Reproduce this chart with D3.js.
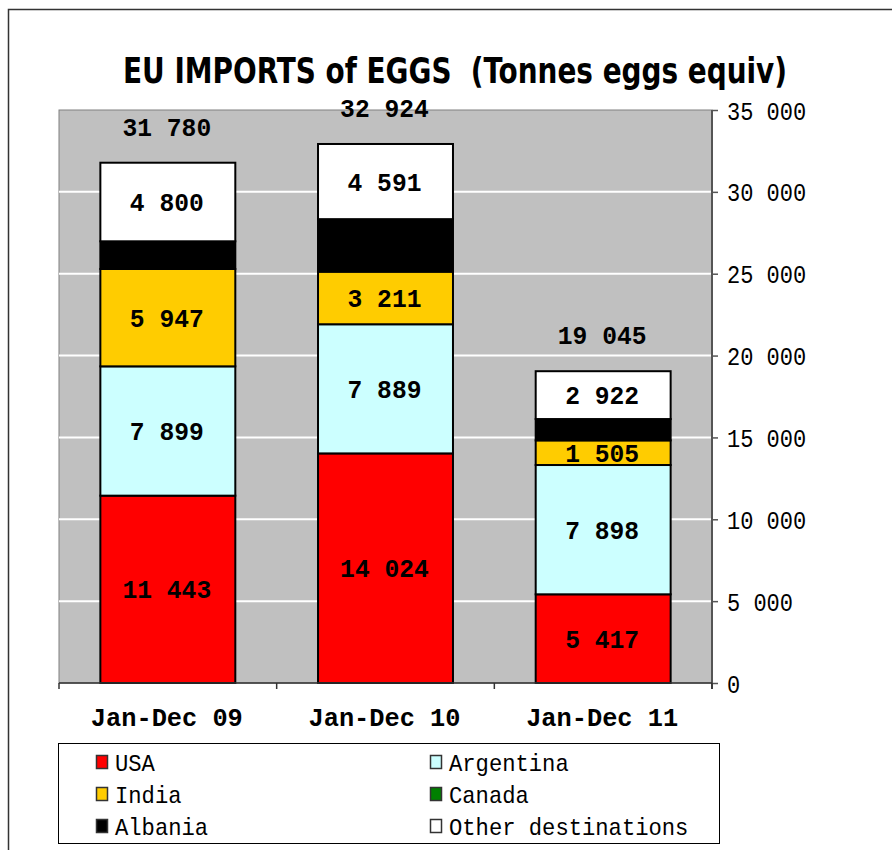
<!DOCTYPE html>
<html><head><meta charset="utf-8">
<script src="https://cdn.jsdelivr.net/npm/d3@7"></script>
<style>body{margin:0;background:#fff}svg{display:block}text{white-space:pre}</style>
</head><body>
<script>
const categories = ["Jan-Dec 09", "Jan-Dec 10", "Jan-Dec 11"];
const seriesNames = ["USA", "Argentina", "India", "Canada", "Albania", "Other destinations"];
const usa = [11443, 14024, 5417];
const argentina = [7899, 7889, 7898];
const india = [5947, 3211, 1505];
const canada = [0, 0, 0];
const albania = [1691, 3209, 1303];
const other = [4800, 4591, 2922];
const totals = [31780, 32924, 19045];
const yTicks = [0, 5000, 10000, 15000, 20000, 25000, 30000, 35000];
const showLabel = [true, true, true, false, false, true];
const colors = ["#ff0000", "#ccffff", "#ffcc00", "#008000", "#000000", "#ffffff"];

(function () {
const W = 892, H = 850;
const pL = 59, pR = 712, pT = 110, pB = 683;
const svg = d3.select("body").append("svg").attr("width", W).attr("height", H);
const fmt = d3.formatLocale({decimal: ".", thousands: " ", grouping: [3], currency: ["", ""]}).format(",d");
const MONO = "'Liberation Mono','DejaVu Sans Mono',monospace";

function mono(sel, size, charW, weight) {
  sel.attr("font-family", MONO).attr("font-size", size).attr("font-weight", weight || "normal")
    .attr("lengthAdjust", "spacingAndGlyphs")
    .attr("textLength", function () { return this.textContent.length * charW; });
  return sel;
}

// outer border
svg.append("rect").attr("x", 8.5).attr("y", 9.5).attr("width", 1000).attr("height", 1000)
  .attr("fill", "none").attr("stroke", "#333").attr("stroke-width", 1.5);

// title
svg.append("text").attr("x", 455).attr("y", 83).attr("text-anchor", "middle")
  .attr("font-family", "'Liberation Sans Narrow','DejaVu Sans Condensed','Liberation Sans',sans-serif")
  .attr("font-weight", "bold").attr("font-size", 36)
  .attr("textLength", 664).attr("lengthAdjust", "spacingAndGlyphs")
  .text("EU IMPORTS of EGGS  (Tonnes eggs equiv)");

const x = d3.scaleBand().domain(categories).range([pL, pR]).padding(0);
const y = d3.scaleLinear().domain([0, 35000]).range([pB, pT]);

// plot background
svg.append("rect").attr("x", pL).attr("y", pT).attr("width", pR - pL).attr("height", pB - pT)
  .attr("fill", "#c0c0c0").attr("stroke", "#808080").attr("stroke-width", 1);

// gridlines
svg.append("g").selectAll("line").data(yTicks.filter(t => t > 0 && t < 35000)).join("line")
  .attr("x1", pL).attr("x2", pR).attr("y1", d => y(d)).attr("y2", d => y(d))
  .attr("stroke", "#ffffff").attr("stroke-width", 2);

// stacked data
const table = categories.map((c, i) => ({cat: c, s0: usa[i], s1: argentina[i], s2: india[i], s3: canada[i], s4: albania[i], s5: other[i]}));
const keys = ["s0", "s1", "s2", "s3", "s4", "s5"];
const stack = d3.stack().keys(keys)(table);
const barW = x.bandwidth() * 0.62;
const bx = d => x(d.data.cat) + (x.bandwidth() - barW) / 2;

stack.forEach((layer, li) => {
  const g = svg.append("g");
  g.selectAll("rect").data(layer.filter(d => d[1] > d[0])).join("rect")
    .attr("x", bx).attr("width", barW)
    .attr("y", d => y(d[1])).attr("height", d => y(d[0]) - y(d[1]))
    .attr("fill", colors[li]).attr("stroke", "#000").attr("stroke-width", 2);
});
stack.forEach((layer, li) => {
  if (!showLabel[li]) return;
  const t = svg.append("g").selectAll("text").data(layer.filter(d => d[1] > d[0])).join("text")
    .attr("x", d => x(d.data.cat) + x.bandwidth() / 2 - 1)
    .attr("y", d => (y(d[0]) + y(d[1])) / 2 + 9)
    .attr("text-anchor", "middle").attr("fill", "#000")
    .text(d => fmt(d[1] - d[0]));
  mono(t, 26, 14.8, "bold");
});

// totals
const tt = svg.append("g").selectAll("text").data(categories).join("text")
  .attr("x", c => x(c) + x.bandwidth() / 2 - 1)
  .attr("y", (c, i) => y(totals[i]) - 27)
  .attr("text-anchor", "middle").text((c, i) => fmt(totals[i]));
mono(tt, 26, 14.8, "bold");

// right y axis
const yAxis = svg.append("g").attr("transform", `translate(${pR},0)`)
  .call(d3.axisRight(y).tickValues(yTicks).tickSize(6).tickFormat(d => fmt(d)));
yAxis.select(".domain").attr("stroke", "#555").attr("stroke-width", 2).attr("d", `M0,${pT}V${pB + 6}`);
yAxis.selectAll(".tick line").attr("stroke", "#555").attr("stroke-width", 1.5);
yAxis.selectAll(".tick text").attr("x", 15).attr("dy", "0.36em").attr("fill", "#000").attr("text-anchor", "start");
mono(yAxis.selectAll(".tick text"), 25, 13.2, "normal");

// bottom x axis
const xAxis = svg.append("g").attr("transform", `translate(0,${pB})`)
  .call(d3.axisBottom(x).tickSize(0).tickFormat(""));
xAxis.select(".domain").attr("stroke", "#333").attr("stroke-width", 1.5).attr("d", `M${pL},0H${pR}`);
xAxis.selectAll(".tick").remove();
const bounds = [pL].concat(categories.map(c => x(c) + x.bandwidth()));
xAxis.selectAll("line.b").data(bounds).join("line").attr("class", "b")
  .attr("x1", d => d).attr("x2", d => d).attr("y1", 0).attr("y2", 6)
  .attr("stroke", "#333").attr("stroke-width", 1.5);
const cl = svg.append("g").selectAll("text").data(categories).join("text")
  .attr("x", c => x(c) + x.bandwidth() / 2 - 1).attr("y", 726)
  .attr("text-anchor", "middle").text(c => c);
mono(cl, 26, 15.2, "bold");

// legend
svg.append("rect").attr("x", 58.5).attr("y", 743.5).attr("width", 661).attr("height", 100)
  .attr("fill", "#fff").attr("stroke", "#000").attr("stroke-width", 1);
const legPos = [[96, 762], [430, 762], [96, 794], [430, 794], [96, 826], [430, 826]];
const lg = svg.append("g").selectAll("g").data(seriesNames).join("g")
  .attr("transform", (d, i) => `translate(${legPos[i][0]},${legPos[i][1]})`);
lg.append("rect").attr("x", 0.5).attr("y", -6.5).attr("width", 11).attr("height", 13)
  .attr("fill", (d, i) => colors[i]).attr("stroke", "#333").attr("stroke-width", 1.5);
const lt = lg.append("text").attr("x", 19).attr("y", 8.5).text(d => d);
mono(lt, 24, 13.3, "normal");
})();
</script>
</body></html>
